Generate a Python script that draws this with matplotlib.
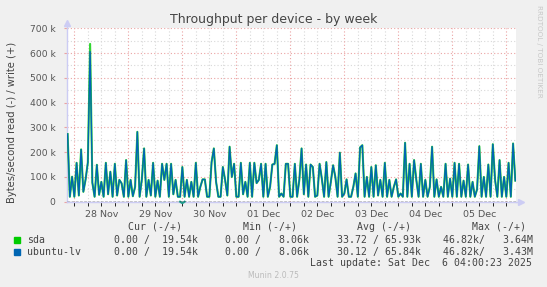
import numpy as np
import matplotlib.pyplot as plt

W, H = 547, 287

# write rate in kB/s, one sample per hour, first sample = 27 Nov 21:00
start_hour = -3
sda_write = [
    273, 20, 101, 20, 157, 25, 211, 40, 90, 159,
    637, 77, 20, 149, 28, 80, 20, 157, 30, 121,
    20, 153, 25, 88, 74, 20, 168, 20, 88, 22,
    60, 282, 20, 90, 215, 20, 88, 25, 157, 20,
    85, 20, 153, 88, 153, 20, 153, 30, 88, 20,
    20, 140, 20, 88, 20, 80, 20, 157, 20, 60,
    90, 90, 20, 20, 160, 215, 80, 20, 20, 140,
    88, 25, 222, 100, 153, 20, 20, 157, 30, 80,
    20, 157, 20, 157, 75, 88, 153, 20, 153, 20,
    60, 150, 153, 228, 20, 33, 20, 153, 153, 20,
    20, 153, 20, 88, 215, 30, 150, 20, 150, 140,
    20, 25, 153, 93, 20, 160, 20, 80, 147, 100,
    20, 198, 20, 33, 90, 20, 20, 60, 114, 20,
    219, 228, 20, 100, 20, 140, 20, 147, 25, 88,
    20, 157, 20, 88, 20, 60, 90, 20, 33, 20,
    238, 20, 153, 20, 168, 88, 20, 153, 20, 88,
    20, 60, 222, 20, 90, 20, 60, 20, 153, 20,
    93, 20, 157, 20, 153, 20, 85, 20, 150, 20,
    80, 20, 50, 224, 20, 100, 20, 150, 20, 232,
    88, 20, 168, 20, 100, 20, 157, 20, 235, 85,
]
# ubuntu-lv sits on top of sda everywhere except the big spike
ubuntu_lv_write = list(sda_write)
ubuntu_lv_write[10] = 606

# the only visible read activity (drawn below zero)
read_hours = [47, 48, 49]
read_kb = [0, 6, 0]

day_labels = ['28 Nov', '29 Nov', '30 Nov', '01 Dec', '02 Dec', '03 Dec', '04 Dec', '05 Dec']
y_ticks = [0, 100, 200, 300, 400, 500, 600, 700]
y_tick_labels = ['0', '100 k', '200 k', '300 k', '400 k', '500 k', '600 k', '700 k']

legend_names = ['sda', 'ubuntu-lv']
legend_colors = ['#00CC00', '#0066B3']
legend_headers = ['Cur (-/+)', 'Min (-/+)', 'Avg (-/+)', 'Max (-/+)']
legend_values = [
    ['0.00 /  19.54k', '0.00 /   8.06k', '33.72 / 65.93k', '46.82k/   3.64M'],
    ['0.00 /  19.54k', '0.00 /   8.06k', '30.12 / 65.84k', '46.82k/   3.43M'],
]

hours = np.arange(len(sda_write)) + start_hour

fig = plt.figure(figsize=(W / 100, H / 100), dpi=100, facecolor='#F0F0F0')
ax = fig.add_axes([66.7 / W, 1 - 201.7 / H, (516 - 66.7) / W, (201.7 - 28.3) / H])
ax.set_facecolor('white')
ax.set_xlim(-3.4, 196.3)
ax.set_ylim(0, 700)

# grid
for h in range(0, 197, 6):
    if h % 24 == 0:
        ax.axvline(h, color='#EBA3A3', lw=0.8, ls=(0, (1, 2)), zorder=1)
    else:
        ax.axvline(h, color='#D8D8D8', lw=0.8, ls=(0, (1, 2)), zorder=0.9)
for v in range(50, 701, 50):
    if v % 100 == 0:
        ax.axhline(v, color='#EBA3A3', lw=0.8, ls=(0, (1, 2)), zorder=1)
    else:
        ax.axhline(v, color='#D8D8D8', lw=0.8, ls=(0, (1, 2)), zorder=0.9)

ax.plot(hours, sda_write, color=legend_colors[0], lw=1.5, alpha=0.8, zorder=3)
ax.plot(hours, ubuntu_lv_write, color=legend_colors[1], lw=1.0, zorder=4)
ax.plot(read_hours, [-v for v in read_kb], color='#1E9A8A', lw=1.5, clip_on=False, zorder=4)
ax.axhline(0, color='black', lw=1.0, ls=(0, (2, 1)), zorder=5)

# axes
for s in ['top', 'right']:
    ax.spines[s].set_visible(False)
for s in ['left', 'bottom']:
    ax.spines[s].set_color('#CCCCF4')
    ax.spines[s].set_linewidth(1.0)
ax.plot([0, 0], [1, 1.03], color='#CCCCF4', lw=1, transform=ax.transAxes, clip_on=False)
ax.plot([0], [1.03], marker='^', ms=4, color='#CCCCF4', transform=ax.transAxes, clip_on=False)
ax.plot([1, 1.012], [0, 0], color='#CCCCF4', lw=1, transform=ax.transAxes, clip_on=False)
ax.plot([1.012], [0], marker='>', ms=4, color='#CCCCF4', transform=ax.transAxes, clip_on=False)

ax.set_yticks(y_ticks)
ax.set_yticklabels(y_tick_labels)
ax.tick_params(axis='y', length=2, color='#EBA3A3', pad=6, labelsize=6.6, labelcolor='#555555')

ax.xaxis.remove_overlapping_locs = False
ax.set_xticks([12 + 24 * i for i in range(len(day_labels))])
ax.set_xticklabels(day_labels)
ax.tick_params(axis='x', which='major', length=0, pad=6, labelsize=6.8, labelcolor='#555555')
minor_hours = list(range(0, 197, 6))
ax.set_xticks(minor_hours, minor=True)
ax.tick_params(axis='x', which='minor', length=3)
for h, t in zip(minor_hours, ax.xaxis.get_minor_ticks()):
    t.tick1line.set_color('#EBA3A3' if h % 24 == 0 else '#D0D0D0')

fig.text(273.3 / W, 1 - 19 / H, 'Throughput per device - by week', ha='center', va='center',
         fontsize=9.0, color='#444444')
fig.text(12 / W, 1 - 122 / H, 'Bytes/second read (-) / write (+)', rotation=90, ha='center',
         va='center', fontsize=7.2, color='#444444')
fig.text(539 / W, 1 - 5 / H, 'RRDTOOL / TOBI OETIKER', rotation=270, ha='center', va='top',
         fontsize=5.2, color='#C8C8C8')

mono = dict(family='DejaVu Sans Mono', fontsize=7.1, color='#444444', va='center')
header_right = [182, 297, 411, 526]
value_right = [198, 309, 421, 533]
for x, txt in zip(header_right, legend_headers):
    fig.text(x / W, 1 - 226.7 / H, txt, ha='right', **mono)
for row, (name, col, vals) in enumerate(zip(legend_names, legend_colors, legend_values)):
    y = 240 + 11.7 * row
    fig.patches.append(plt.Rectangle((14 / W, 1 - (y + 3) / H), 6 / W, 6 / H,
                                     transform=fig.transFigure, color=col))
    fig.text(26.7 / W, 1 - y / H, name, ha='left', **mono)
    for x, txt in zip(value_right, vals):
        fig.text(x / W, 1 - y / H, txt, ha='right', **mono)
fig.text(532 / W, 1 - 263.3 / H, 'Last update: Sat Dec  6 04:00:23 2025', ha='right', **mono)
fig.text(273 / W, 1 - 276 / H, 'Munin 2.0.75', ha='center', va='center', fontsize=5.6,
         color='#BBBBBB')

fig.savefig('out.png', dpi=100, facecolor=fig.get_facecolor())
